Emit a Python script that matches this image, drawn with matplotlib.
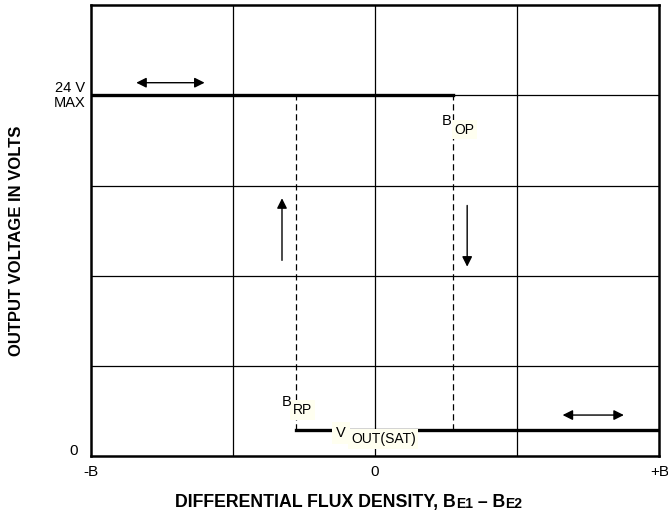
import matplotlib.pyplot as plt

plt.rcParams['font.family'] = ['Liberation Sans', 'DejaVu Sans']

# valores (x: -B..+B como -2..2, y: 0..5 con 24 V en 4)
x_rp = -0.556
x_op = 0.55
v_max = 4.0
v_sat = 0.29
x_izq = -2.0
x_der = 1.99
x_ticks = [-2, 0, 2]
x_ticklabels = ['-B', '0', '+B']
grid_x = [-1, 0, 1]
grid_y = [1, 2, 3, 4]

fig = plt.figure(figsize=(6.68, 5.12), dpi=100)
ax = fig.add_axes([0.136, 0.109, 0.851, 0.881])
ax.set_xlim(-2, 2)
ax.set_ylim(0, 5)
ax.set_xticks([])
ax.set_yticks([])
for s in ax.spines.values():
    s.set_linewidth(1.8)
    s.set_zorder(5)

# rejilla
for gx in grid_x:
    ax.axvline(gx, color='black', lw=0.9, zorder=1)
for gy in grid_y:
    ax.axhline(gy, color='black', lw=0.9, zorder=1)

# curva de histeresis
ax.plot([x_izq, x_op], [v_max, v_max], color='black', lw=2.4, zorder=3)
ax.plot([x_rp, x_der], [v_sat, v_sat], color='black', lw=2.4, zorder=3)
ax.plot([x_rp, x_rp], [v_sat, v_max], color='black', lw=0.9, ls=(0, (5, 3)), zorder=2)
ax.plot([x_op, x_op], [v_sat, v_max], color='black', lw=0.9, ls=(0, (5, 3)), zorder=2)

# flechas
flecha = dict(arrowstyle='-|>', color='black', lw=1.0, mutation_scale=15)
doble = dict(arrowstyle='<|-|>', color='black', lw=1.0, mutation_scale=15)
ax.annotate('', xy=(-1.18, 4.14), xytext=(-1.70, 4.14), arrowprops=doble)
ax.annotate('', xy=(1.77, 0.456), xytext=(1.30, 0.456), arrowprops=doble)
ax.annotate('', xy=(-0.655, 2.89), xytext=(-0.655, 2.14), arrowprops=flecha)
ax.annotate('', xy=(0.648, 2.07), xytext=(0.648, 2.81), arrowprops=flecha)

# etiquetas con fondo (la letra B encima del recuadro)
fondo = dict(facecolor='#fffff0', edgecolor='none', pad=2)
fondo_v = dict(facecolor='#fffff0', edgecolor='none', pad=3)
ax.text(0.50, 3.72, 'B', fontsize=10.5, ha='center', va='center', zorder=6)
ax.text(0.56, 3.62, 'OP', fontsize=10, ha='left', va='center', bbox=fondo, zorder=4)
ax.text(-0.62, 0.60, 'B', fontsize=10.5, ha='center', va='center', zorder=6)
ax.text(-0.58, 0.51, 'RP', fontsize=10, ha='left', va='center', bbox=fondo, zorder=4)
ax.text(-0.24, 0.26, 'V', fontsize=10.5, ha='center', va='center', bbox=fondo_v, zorder=6)
ax.text(-0.17, 0.19, 'OUT(SAT)', fontsize=10, ha='left', va='center', bbox=fondo, zorder=4)

# etiquetas del eje y
ax.text(-2.04, 4.08, '24 V', fontsize=10.5, ha='right', va='center', clip_on=False)
ax.text(-2.04, 3.91, 'MAX', fontsize=10.5, ha='right', va='center', clip_on=False)
ax.text(-2.09, 0.06, '0', fontsize=11, ha='right', va='center', clip_on=False)

# etiquetas del eje x
for xt, lab in zip(x_ticks, x_ticklabels):
    ax.text(xt, -0.18, lab, fontsize=11, ha='center', va='center', clip_on=False)

fig.text(0.024, 0.529, 'OUTPUT VOLTAGE IN VOLTS', rotation=90, fontsize=12,
         fontweight='bold', ha='center', va='center')

t1 = fig.text(0.262, 0.0098, 'DIFFERENTIAL FLUX DENSITY, B', fontsize=12.8,
              fontweight='bold', ha='left', va='baseline')
t2 = ax.annotate('E1', xy=(1, 0), xycoords=t1, fontsize=10, fontweight='bold',
                 va='bottom', ha='left', annotation_clip=False)
t3 = ax.annotate(' \u2013 B', xy=(1, 0), xycoords=t2, fontsize=12.8,
                 fontweight='bold', va='bottom', ha='left', annotation_clip=False)
ax.annotate('E2', xy=(1, 0), xycoords=t3, fontsize=10, fontweight='bold',
            va='bottom', ha='left', annotation_clip=False)

fig.savefig('out.png', dpi=100)
